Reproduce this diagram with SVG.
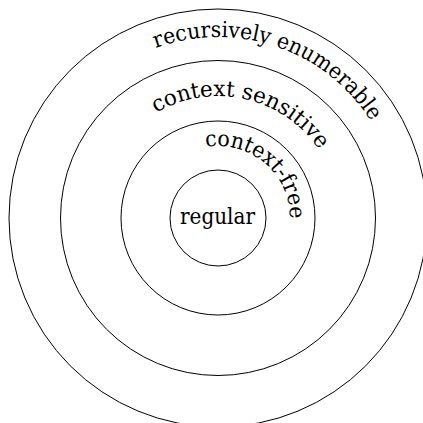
<svg xmlns="http://www.w3.org/2000/svg" xmlns:xlink="http://www.w3.org/1999/xlink" width="423" height="423" viewBox="0 0 423 423">
  <style>
    .ring { fill: none; stroke: #000; stroke-width: 1; }
    .lbl { font-family: 'DejaVu Serif', serif; font-size: 22px; fill: #000; }
  </style>
  <defs>
    <path id="p-re" d="M 37 218 A 181 181 0 0 1 399 218 A 181 181 0 0 1 37 218"/>
    <path id="p-cs" d="M 96 218 A 122 122 0 0 1 340 218 A 122 122 0 0 1 96 218"/>
    <path id="p-cf" d="M 146 218 A 72 72 0 0 1 290 218 A 72 72 0 0 1 146 218"/>
  </defs>
  <rect width="423" height="423" fill="#fff"/>
  <g id="recursively-enumerable">
    <circle class="ring" cx="218" cy="218" r="209"/>
    <text class="lbl"><textPath xlink:href="#p-re" href="#p-re" startOffset="220.5" textLength="246" lengthAdjust="spacingAndGlyphs">recursively enumerable</textPath></text>
  </g>
  <g id="context-sensitive">
    <circle class="ring" cx="218" cy="218" r="157.5"/>
    <text class="lbl"><textPath xlink:href="#p-cs" href="#p-cs" startOffset="126.5" textLength="184" lengthAdjust="spacingAndGlyphs">context sensitive</textPath></text>
  </g>
  <g id="context-free">
    <circle class="ring" cx="218" cy="218" r="97"/>
    <text class="lbl"><textPath xlink:href="#p-cf" href="#p-cf" startOffset="100.5" textLength="126" lengthAdjust="spacingAndGlyphs">context-free</textPath></text>
  </g>
  <g id="regular">
    <circle class="ring" cx="218" cy="218" r="48"/>
    <text class="lbl" x="217.5" y="223.5" text-anchor="middle" textLength="75" lengthAdjust="spacingAndGlyphs">regular</text>
  </g>
</svg>
